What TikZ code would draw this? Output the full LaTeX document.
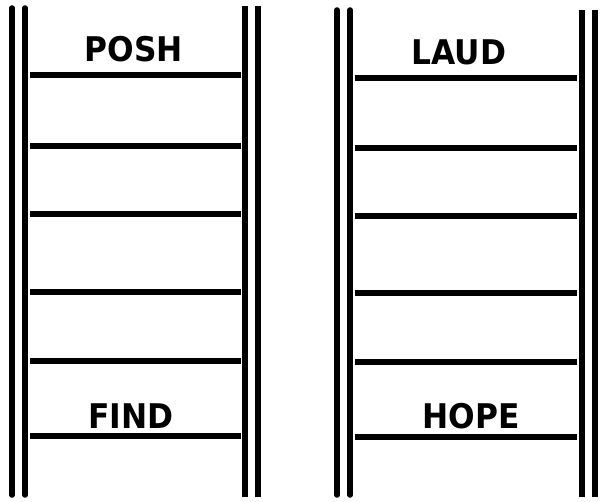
\documentclass[tikz,border=0pt]{standalone}
\usepackage{fontspec}
\setmainfont{DejaVu Sans}
\newfontfamily\wordfont[FakeStretch=0.92]{DejaVu Sans Bold}
\usetikzlibrary{positioning}

\begin{document}
\begin{tikzpicture}[
  x=1pt, y=-1pt,
  rail/.style={line width=5.5pt, line cap=round},
  railb/.style={line width=5.5pt, line cap=butt},
  rung/.style={line width=5.5pt},
  word/.style={font=\wordfont\fontsize{34}{34}\selectfont, anchor=base, inner sep=0pt}
]
\useasboundingbox (0,0) rectangle (602,502);
% left ladder
\draw[rail] (12,8) -- (12,495);
\draw[rail] (25,8) -- (25,495);
\draw[railb] (245,6) -- (245,497);
\draw[railb] (258,6) -- (258,497);
\foreach \y in {75,146,214,292,361,436}
  \draw[rung] (30,\y) -- (241,\y);
\node[word] (posh) at (134,62) {POSH};
\node[word] (find) at (131,428) {FIND};
% right ladder
\draw[rail] (337,10) -- (337,495);
\draw[rail] (350,10) -- (350,495);
\draw[railb] (582,10) -- (582,497);
\draw[railb] (595,10) -- (595,497);
\foreach \y in {78,148,216,293,362,437}
  \draw[rung] (355,\y) -- (577,\y);
\node[word] (laud) at (459,65) {LAUD};
\node[word] (hope) at (471,428) {HOPE};
\end{tikzpicture}
\end{document}
